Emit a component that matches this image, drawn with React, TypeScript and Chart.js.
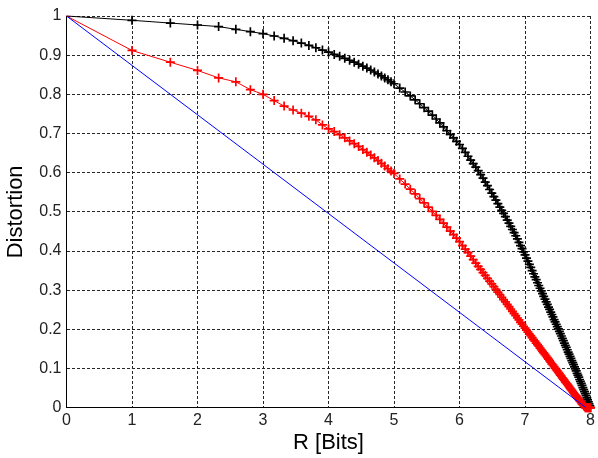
import React, { useEffect, useRef } from "react";
import { Chart, registerables } from "chart.js";
Chart.register(...registerables);

// Rate values (bits) shared by the black and red curves
const R = [
  0, 1, 1.585, 2, 2.322, 2.585, 2.807, 3, 3.17, 3.322, 3.459, 3.585, 3.7, 3.807, 3.907, 4,
  4.087, 4.17, 4.248, 4.322, 4.392, 4.459, 4.524, 4.585, 4.644, 4.7, 4.755, 4.807, 4.858, 4.907, 4.954, 5,
  5.087, 5.17, 5.248, 5.322, 5.392, 5.459, 5.524, 5.585, 5.644, 5.7, 5.755, 5.807, 5.858, 5.907, 5.954, 6,
  6.044, 6.087, 6.129, 6.17, 6.209, 6.248, 6.285, 6.322, 6.358, 6.392, 6.426, 6.459, 6.492, 6.524, 6.555, 6.585,
  6.615, 6.644, 6.672, 6.7, 6.728, 6.755, 6.781, 6.807, 6.833, 6.858, 6.883, 6.907, 6.931, 6.954, 6.977, 7,
  7.022, 7.044, 7.066, 7.087, 7.108, 7.129, 7.15, 7.17, 7.19, 7.209, 7.229, 7.248, 7.267, 7.285, 7.304, 7.322,
  7.34, 7.358, 7.375, 7.392, 7.409, 7.426, 7.443, 7.459, 7.476, 7.492, 7.508, 7.524, 7.539, 7.555, 7.57, 7.585,
  7.6, 7.615, 7.629, 7.644, 7.658, 7.672, 7.687, 7.7, 7.714, 7.728, 7.741, 7.755, 7.768, 7.781, 7.794, 7.807,
  7.82, 7.833, 7.845, 7.858, 7.87, 7.883, 7.895, 7.907, 7.919, 7.931, 7.943, 7.954, 7.966, 7.977, 7.989, 8,
];

const blackD = [
  1, 0.989, 0.982, 0.977, 0.973, 0.966, 0.96, 0.955, 0.949, 0.943, 0.937, 0.931, 0.925, 0.919, 0.913, 0.908,
  0.902, 0.897, 0.892, 0.887, 0.882, 0.877, 0.872, 0.867, 0.862, 0.857, 0.852, 0.847, 0.842, 0.837, 0.832, 0.827,
  0.816, 0.806, 0.796, 0.786, 0.776, 0.766, 0.757, 0.747, 0.737, 0.727, 0.717, 0.707, 0.698, 0.689, 0.68, 0.672,
  0.662, 0.652, 0.642, 0.632, 0.623, 0.614, 0.605, 0.595, 0.586, 0.576, 0.567, 0.557, 0.548, 0.539, 0.53, 0.521,
  0.512, 0.504, 0.496, 0.488, 0.479, 0.471, 0.463, 0.455, 0.447, 0.439, 0.431, 0.422, 0.414, 0.406, 0.398, 0.39,
  0.382, 0.374, 0.366, 0.358, 0.35, 0.342, 0.334, 0.327, 0.319, 0.312, 0.305, 0.298, 0.291, 0.284, 0.277, 0.27,
  0.264, 0.257, 0.251, 0.244, 0.238, 0.232, 0.225, 0.219, 0.213, 0.207, 0.201, 0.195, 0.189, 0.183, 0.177, 0.171,
  0.165, 0.159, 0.154, 0.148, 0.142, 0.137, 0.131, 0.126, 0.12, 0.115, 0.11, 0.104, 0.099, 0.094, 0.088, 0.083,
  0.078, 0.072, 0.067, 0.062, 0.057, 0.051, 0.046, 0.041, 0.036, 0.031, 0.025, 0.02, 0.015, 0.01, 0.005, 0,
];

const redD = [
  1, 0.912, 0.882, 0.861, 0.842, 0.832, 0.812, 0.8, 0.784, 0.77, 0.76, 0.752, 0.744, 0.735, 0.722, 0.712,
  0.705, 0.697, 0.689, 0.681, 0.674, 0.667, 0.659, 0.652, 0.645, 0.638, 0.631, 0.624, 0.617, 0.61, 0.604, 0.598,
  0.584, 0.571, 0.558, 0.546, 0.534, 0.523, 0.512, 0.501, 0.491, 0.481, 0.471, 0.461, 0.451, 0.442, 0.433, 0.424,
  0.414, 0.405, 0.396, 0.387, 0.378, 0.369, 0.361, 0.353, 0.345, 0.338, 0.33, 0.323, 0.316, 0.309, 0.302, 0.295,
  0.289, 0.282, 0.276, 0.27, 0.264, 0.258, 0.252, 0.246, 0.24, 0.235, 0.229, 0.224, 0.218, 0.213, 0.208, 0.203,
  0.198, 0.193, 0.188, 0.184, 0.179, 0.174, 0.17, 0.165, 0.161, 0.157, 0.152, 0.148, 0.144, 0.14, 0.136, 0.132,
  0.128, 0.124, 0.12, 0.116, 0.112, 0.109, 0.105, 0.101, 0.097, 0.094, 0.09, 0.087, 0.083, 0.08, 0.076, 0.073,
  0.07, 0.066, 0.063, 0.06, 0.057, 0.054, 0.05, 0.047, 0.044, 0.041, 0.038, 0.035, 0.032, 0.03, 0.027, 0.024,
  0.021, 0.018, 0.016, 0.013, 0.01, 0.008, 0.005, 0.003, 0, 0, 0, 0, 0, 0, 0, 0,
];

const blueR = [0, 7.93];
const blueD = [1, 0];

const xTicks = [0, 1, 2, 3, 4, 5, 6, 7, 8];
const yTicks = [0, 0.1, 0.2, 0.3, 0.4, 0.5, 0.6, 0.7, 0.8, 0.9, 1];
const yTickLabels = ["0", "0.1", "0.2", "0.3", "0.4", "0.5", "0.6", "0.7", "0.8", "0.9", "1"];
const xTitle = "R [Bits]";
const yTitle = "Distortion";

const FONT = "'Liberation Sans', Arial, Helvetica, sans-serif";

export default function App() {
  const ref = useRef<HTMLCanvasElement>(null);
  useEffect(() => {
    const canvas = ref.current;
    if (!canvas) return;
    const pts = (xs: number[], ys: number[]) => xs.map((x, i) => ({ x, y: ys[i] }));
    const markerClip = { left: 6, top: 6, right: 8, bottom: 6 };
    const markerRadius = (c: any) => (c.dataIndex === 0 ? 0 : 4.5);
    const chart = new Chart(canvas, {
      type: "scatter",
      data: {
        datasets: [
          {
            data: pts(blueR, blueD),
            showLine: true,
            borderColor: "#0000ff",
            borderWidth: 1,
            pointRadius: 0,
            tension: 0,
          },
          {
            data: pts(R, redD),
            showLine: true,
            borderColor: "#ff0000",
            borderWidth: 1,
            pointStyle: "cross",
            pointRadius: markerRadius,
            pointBorderColor: "#ff0000",
            pointBorderWidth: 1.7,
            tension: 0,
            clip: markerClip,
          },
          {
            data: pts(R, blackD),
            showLine: true,
            borderColor: "#000000",
            borderWidth: 1,
            pointStyle: "cross",
            pointRadius: markerRadius,
            pointBorderColor: "#000000",
            pointBorderWidth: 1.7,
            tension: 0,
            clip: markerClip,
          },
        ],
      },
      options: {
        animation: false,
        responsive: false,
        devicePixelRatio: 1,
        events: [],
        layout: { padding: { top: 16, right: 6, left: 0, bottom: 0 } },
        plugins: { legend: { display: false }, tooltip: { enabled: false } },
        scales: {
          x: {
            type: "linear",
            min: 0,
            max: 8,
            afterBuildTicks: (s: any) => {
              s.ticks = xTicks.map((v) => ({ value: v }));
            },
            afterFit: (s: any) => {
              s.height = 50.3;
            },
            grid: { color: "#262626", lineWidth: 1, drawTicks: false },
            border: { display: true, color: "#000000", width: 1, dash: [3, 2] },
            ticks: {
              padding: 3,
              color: "#222222",
              font: { family: FONT, size: 16 },
              maxRotation: 0,
              callback: (v: any) => String(v),
            },
            title: {
              display: true,
              text: xTitle,
              color: "#000000",
              font: { family: FONT, size: 22 },
              padding: { top: 0, bottom: 2 },
            },
          },
          y: {
            type: "linear",
            min: 0,
            max: 1,
            afterBuildTicks: (s: any) => {
              s.ticks = yTicks.map((v) => ({ value: v }));
            },
            afterFit: (s: any) => {
              s.width = 66.5;
            },
            grid: { color: "#262626", lineWidth: 1, drawTicks: false },
            border: { display: true, color: "#000000", width: 1, dash: [3, 2] },
            ticks: {
              padding: 5,
              color: "#222222",
              font: { family: FONT, size: 16 },
              callback: (v: any) => {
                const i = yTicks.findIndex((t) => Math.abs(t - Number(v)) < 1e-9);
                return i >= 0 ? yTickLabels[i] : "";
              },
            },
            title: {
              display: true,
              text: yTitle,
              color: "#000000",
              font: { family: FONT, size: 22 },
              padding: { top: 3, bottom: 0 },
            },
          },
        },
      },
    } as any);
    return () => chart.destroy();
  }, []);

  return (
    <div style={{ position: "fixed", left: 0, top: 0, width: 598, height: 458, background: "#ffffff" }}>
      <canvas ref={ref} width={598} height={458} style={{ display: "block" }} />
    </div>
  );
}
